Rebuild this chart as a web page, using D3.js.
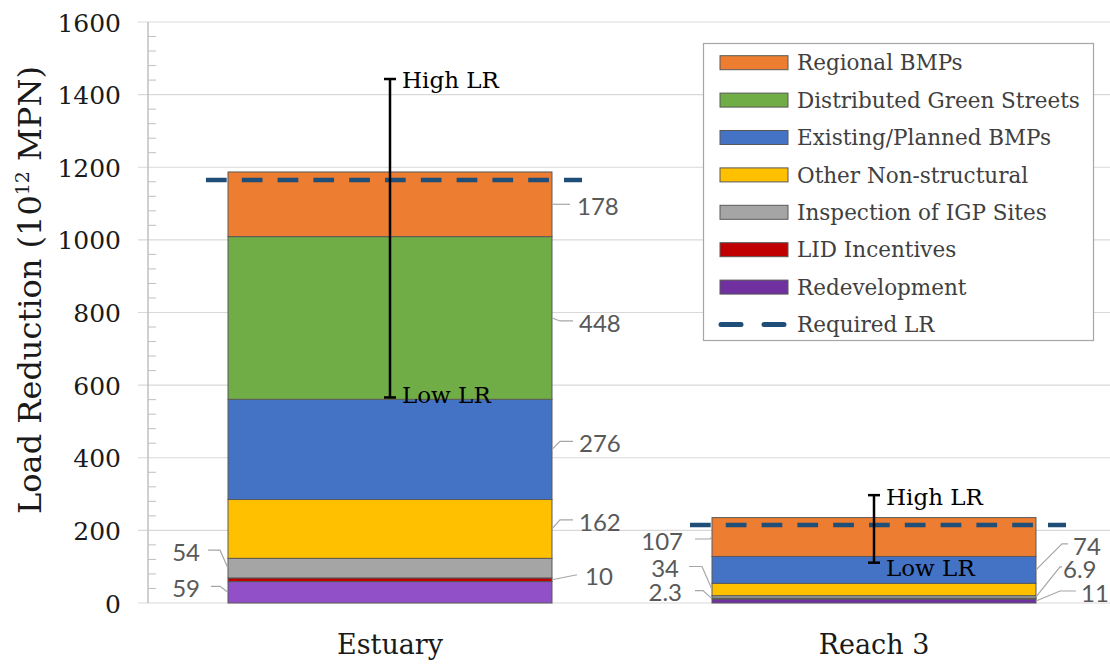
<!DOCTYPE html>
<html>
<head>
<meta charset="utf-8">
<script src="https://cdn.jsdelivr.net/npm/d3@7"></script>
<style>
  html, body { margin: 0; padding: 0; background: #fff; }
  svg { display: block; }
</style>
</head>
<body>
<svg id="chart" width="1110" height="665"></svg>
<script>
// ---- data ----------------------------------------------------------------
const sites = ["Estuary", "Reach 3"];
// stacking order, bottom to top
const measures = [
  "Redevelopment",
  "LID Incentives",
  "Inspection of IGP Sites",
  "Other Non-structural",
  "Existing/Planned BMPs",
  "Distributed Green Streets",
  "Regional BMPs"
];
const estuaryValues = [59, 10, 54, 162, 276, 448, 178];
const reach3Values  = [11, 2.3, 6.9, 34, 74, 0, 107];
const requiredLR = [1165, 215];
const highLR = [1443, 297];
const lowLR  = [566, 111];
const yTicks = [0, 200, 400, 600, 800, 1000, 1200, 1400, 1600];
const legendOrder = [
  "Regional BMPs",
  "Distributed Green Streets",
  "Existing/Planned BMPs",
  "Other Non-structural",
  "Inspection of IGP Sites",
  "LID Incentives",
  "Redevelopment"
];

// ---- styling -------------------------------------------------------------
const colors = {
  "Regional BMPs": "#ED7D31",
  "Distributed Green Streets": "#70AD47",
  "Existing/Planned BMPs": "#4472C4",
  "Other Non-structural": "#FFC000",
  "Inspection of IGP Sites": "#A5A5A5",
  "LID Incentives": "#C00000",
  "Redevelopment": "#7030A0"
};
const pointColors = { "Estuary|Redevelopment": "#9150C8" };
const serif = "'DejaVu Serif', serif";
const sans = "Lato, 'Open Sans', sans-serif";

// data-label placement: side of the bar, vertical shift of the label from the
// segment middle, leader bend / end distance and text gap from the bar edge
const labelLayout = {
  "Estuary|Regional BMPs":            { side: "r", dy: 2,   bend: 8,  reach: 18, gap: 25 },
  "Estuary|Distributed Green Streets":{ side: "r", dy: 5,   bend: 8,  reach: 21, gap: 27 },
  "Estuary|Existing/Planned BMPs":    { side: "r", dy: -6,  bend: 8,  reach: 21, gap: 27 },
  "Estuary|Other Non-structural":     { side: "r", dy: -7,  bend: 8,  reach: 21, gap: 27 },
  "Estuary|LID Incentives":           { side: "r", dy: -3,  bend: 25, reach: 25, gap: 33 },
  "Estuary|Inspection of IGP Sites":  { side: "l", dy: -16, bend: 8,  reach: 20, gap: 28 },
  "Estuary|Redevelopment":            { side: "l", dy: -4,  bend: 8,  reach: 17, gap: 28 },
  "Reach 3|Regional BMPs":            { side: "l", dy: 4,   bend: 2,  reach: 17, gap: 29 },
  "Reach 3|Other Non-structural":     { side: "l", dy: -21, bend: 10, reach: 23, gap: 33 },
  "Reach 3|LID Incentives":           { side: "l", dy: -6,  bend: 9,  reach: 17, gap: 30 },
  "Reach 3|Existing/Planned BMPs":    { side: "r", dy: -24, bend: 26, reach: 32, gap: 37 },
  "Reach 3|Inspection of IGP Sites":  { side: "r", dy: -28, bend: 24, reach: 26, gap: 27 },
  "Reach 3|Redevelopment":            { side: "r", dy: -8,  bend: 24, reach: 40, gap: 45 }
};
const whiskerLayout = [
  { highDy: 9,  lowDy: 6 },
  { highDy: 10, lowDy: 13 }
];

// ---- scales --------------------------------------------------------------
const svg = d3.select("#chart");
const plotLeft = 148, plotTop = 22, plotBottom = 603;

const x = d3.scaleBand()
  .domain(sites)
  .range([plotLeft, 1116])
  .paddingInner(0.3306)
  .paddingOuter(0.1653);

const y = d3.scaleLinear().domain([0, 1600]).range([plotBottom, plotTop]);

// ---- gridlines & axis ----------------------------------------------------
const grid = svg.append("g");
grid.selectAll("line.major")
  .data(yTicks)
  .join("line")
  .attr("x1", plotLeft - 10).attr("x2", 1110)
  .attr("y1", d => y(d)).attr("y2", d => y(d))
  .attr("stroke", "#d9d9d9").attr("stroke-width", 1.2);

const minorTicks = d3.range(0, 1600, 40).filter(v => v % 200 !== 0);
grid.selectAll("line.minor")
  .data(minorTicks)
  .join("line")
  .attr("x1", plotLeft).attr("x2", plotLeft + 8)
  .attr("y1", d => y(d)).attr("y2", d => y(d))
  .attr("stroke", "#bfbfbf").attr("stroke-width", 1);

svg.append("line")
  .attr("x1", plotLeft).attr("x2", plotLeft)
  .attr("y1", y(1600)).attr("y2", y(0))
  .attr("stroke", "#bfbfbf").attr("stroke-width", 1.5);

const yAxis = d3.axisLeft(y).tickValues(yTicks).tickFormat(d3.format("d"))
  .tickSize(0).tickPadding(0);
const yAxisG = svg.append("g")
  .attr("transform", `translate(${plotLeft - 27},0)`)
  .call(yAxis);
yAxisG.select(".domain").remove();
yAxisG.selectAll("text")
  .attr("font-family", serif)
  .attr("font-size", 25)
  .attr("fill", "#1a1a1a")
  .attr("dy", "0.36em");

const yTitle = svg.append("text")
  .attr("transform", "translate(41,290) rotate(-90)")
  .attr("text-anchor", "middle")
  .attr("font-family", serif)
  .attr("font-size", 32)
  .attr("fill", "#1a1a1a");
yTitle.append("tspan").text("Load Reduction (10");
yTitle.append("tspan").attr("font-size", 19).attr("dy", -12).text("12");
yTitle.append("tspan").attr("dy", 12).text(" MPN)");

const xAxis = d3.axisBottom(x).tickSize(0).tickPadding(0);
const xAxisG = svg.append("g")
  .attr("transform", `translate(0,${plotBottom})`)
  .call(xAxis);
xAxisG.select(".domain").remove();
xAxisG.selectAll("text")
  .attr("font-family", serif)
  .attr("font-size", 27)
  .attr("fill", "#1a1a1a")
  .attr("dy", 0)
  .attr("y", 51);

// ---- stacked bars --------------------------------------------------------
const rows = sites.map((s, i) => {
  const vals = i === 0 ? estuaryValues : reach3Values;
  const row = { site: s };
  measures.forEach((m, j) => { row[m] = vals[j]; });
  return row;
});
const series = d3.stack().keys(measures)(rows);

const segs = [];
series.forEach(layer => {
  layer.forEach(d => {
    const v = d[1] - d[0];
    if (v > 0) segs.push({ site: d.data.site, measure: layer.key, y0: d[0], y1: d[1], value: v });
  });
});

svg.append("g").selectAll("rect")
  .data(segs)
  .join("rect")
  .attr("x", d => x(d.site))
  .attr("width", x.bandwidth())
  .attr("y", d => y(d.y1))
  .attr("height", d => y(d.y0) - y(d.y1))
  .attr("fill", d => pointColors[d.site + "|" + d.measure] || colors[d.measure])
  .attr("stroke", "#595959")
  .attr("stroke-width", 1);

// ---- data labels with leader lines -------------------------------------
const labelG = svg.append("g");
segs.forEach(d => {
  const lay = labelLayout[d.site + "|" + d.measure];
  if (!lay) return;
  const s = lay.side === "r" ? 1 : -1;
  const edge = lay.side === "r" ? x(d.site) + x.bandwidth() : x(d.site);
  const segY = y((d.y0 + d.y1) / 2);
  const lblY = segY + lay.dy;
  const leadY = lblY - 2;
  labelG.append("path")
    .attr("d", d3.line()([[edge, segY], [edge + s * lay.bend, leadY], [edge + s * lay.reach, leadY]]))
    .attr("fill", "none")
    .attr("stroke", "#a6a6a6")
    .attr("stroke-width", 1.2);
  labelG.append("text")
    .attr("x", edge + s * lay.gap)
    .attr("y", lblY)
    .attr("dy", "0.36em")
    .attr("text-anchor", lay.side === "r" ? "start" : "end")
    .attr("font-family", sans)
    .attr("font-size", 24)
    .attr("fill", "#595959")
    .text(d3.format("~g")(d.value));
});

// ---- required load reduction --------------------------------------------
svg.append("g").selectAll("line")
  .data(sites)
  .join("line")
  .attr("x1", d => x(d) - 22)
  .attr("x2", d => x(d) + x.bandwidth() + 30)
  .attr("y1", (d, i) => y(requiredLR[i]))
  .attr("y2", (d, i) => y(requiredLR[i]))
  .attr("stroke", "#1F4E79")
  .attr("stroke-width", 4.5)
  .attr("stroke-dasharray", "20.7,15.1");

// ---- high / low LR range -------------------------------------------------
const errG = svg.append("g");
sites.forEach((s, i) => {
  const cx = x(s) + x.bandwidth() / 2;
  errG.append("line")
    .attr("x1", cx).attr("x2", cx)
    .attr("y1", y(highLR[i])).attr("y2", y(lowLR[i]))
    .attr("stroke", "#000").attr("stroke-width", 2.5);
  [highLR[i], lowLR[i]].forEach(v => {
    errG.append("line")
      .attr("x1", cx - 6).attr("x2", cx + 6)
      .attr("y1", y(v)).attr("y2", y(v))
      .attr("stroke", "#000").attr("stroke-width", 2.5);
  });
  errG.append("text")
    .attr("x", cx + 12).attr("y", y(highLR[i]) + whiskerLayout[i].highDy)
    .attr("font-family", serif).attr("font-size", 23).attr("fill", "#000")
    .text("High LR");
  errG.append("text")
    .attr("x", cx + 12).attr("y", y(lowLR[i]) + whiskerLayout[i].lowDy)
    .attr("font-family", serif).attr("font-size", 23).attr("fill", "#000")
    .text("Low LR");
});

// ---- legend --------------------------------------------------------------
const legend = svg.append("g");
legend.append("rect")
  .attr("x", 703.5).attr("y", 43.5)
  .attr("width", 390).attr("height", 297)
  .attr("fill", "#fff")
  .attr("stroke", "#a6a6a6").attr("stroke-width", 1.2);

const rowY = i => 62.7 + i * 37.4;
const items = legend.selectAll("g.item")
  .data(legendOrder)
  .join("g")
  .attr("transform", (d, i) => `translate(0,${rowY(i)})`);
items.append("rect")
  .attr("x", 720).attr("y", -7)
  .attr("width", 68).attr("height", 14)
  .attr("fill", d => colors[d])
  .attr("stroke", "#595959").attr("stroke-width", 1);
items.append("text")
  .attr("x", 797).attr("y", 0).attr("dy", "0.36em")
  .attr("font-family", serif).attr("font-size", 21.5)
  .attr("fill", "#404040")
  .text(d => d);

const reqRow = legend.append("g")
  .attr("transform", `translate(0,${rowY(legendOrder.length)})`);
reqRow.append("line")
  .attr("x1", 721).attr("x2", 786)
  .attr("y1", 0).attr("y2", 0)
  .attr("stroke", "#1F4E79").attr("stroke-width", 5)
  .attr("stroke-linecap", "round")
  .attr("stroke-dasharray", "20,23");
reqRow.append("text")
  .attr("x", 797).attr("y", 0).attr("dy", "0.36em")
  .attr("font-family", serif).attr("font-size", 21.5)
  .attr("fill", "#404040")
  .text("Required LR");
</script>
</body>
</html>
